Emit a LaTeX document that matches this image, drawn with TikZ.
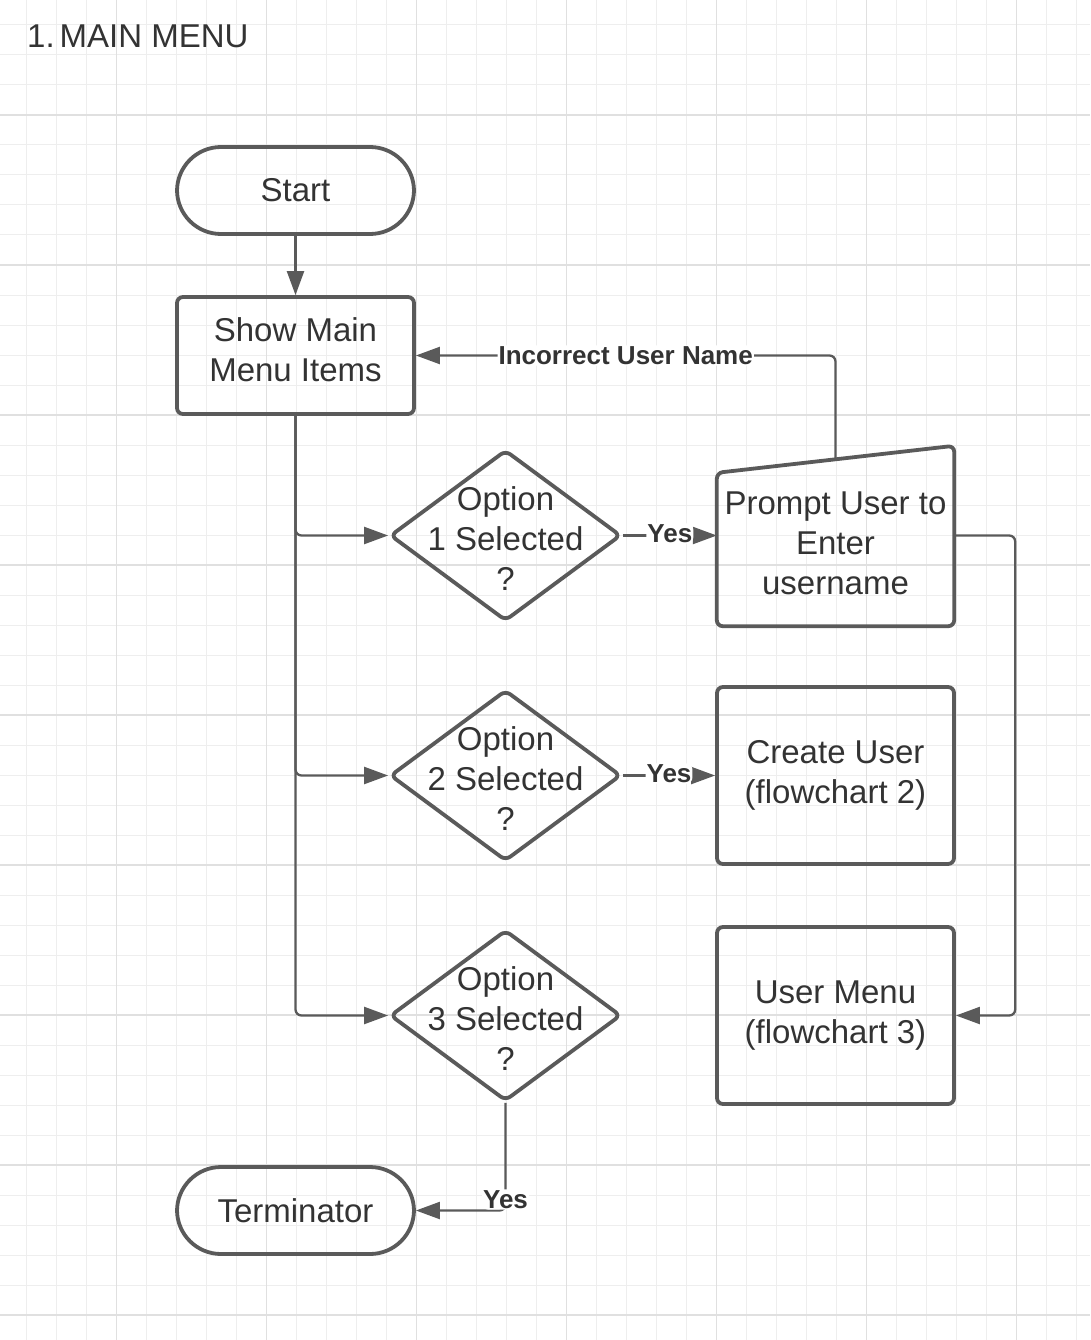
\documentclass[tikz,border=0pt]{standalone}
\usepackage{fontspec}
\setmainfont{Liberation Sans}
\usepackage{tikz}
\usetikzlibrary{shapes.geometric, arrows.meta}
\definecolor{linegray}{HTML}{5A5A5A}
\definecolor{textgray}{HTML}{333333}
\definecolor{gridminor}{HTML}{EEEEEE}
\definecolor{gridmajor}{HTML}{E0E0E0}
\tikzset{txt/.style={align=center, text=textgray, font=\fontsize{33}{40}\selectfont},
  box/.style={txt, draw=linegray, line width=3.8pt, rounded corners=6pt, minimum width=237pt, minimum height=177pt},
  term/.style={box, rounded corners=44pt, minimum height=87pt},
  choice/.style={diamond, draw=linegray, line width=3.8pt, rounded corners=6pt, minimum width=231pt, minimum height=171pt, inner sep=0pt},
  flow/.style={draw=linegray, line width=2.3pt, rounded corners=6pt, -{Triangle[length=24pt, width=17pt]}},
  edgelabel/.style={fill=white, inner sep=1pt, text=textgray, font=\fontsize{26}{30}\selectfont\bfseries}}
\begin{document}
\begin{tikzpicture}[x=1pt, y=-1pt]
      \useasboundingbox (0,0) rectangle (1090,1340);
      % grid paper
      \foreach \x in {26.7,56.7,...,1090} \draw [gridminor, line width=1pt] (\x,0) -- (\x,1340);
      \foreach \y in {25,55,...,1340} \draw [gridminor, line width=1pt] (0,\y) -- (1090,\y);
      \foreach \x in {116.7,266.7,...,1090} \draw [gridmajor, line width=1.2pt] (\x,0) -- (\x,1340);
      \foreach \y in {115,265,...,1340} \draw [gridmajor, line width=1.2pt] (0,\y) -- (1090,\y);
      \node [txt, anchor=west, inner sep=0pt, font=\fontsize{33}{38}\selectfont] (heading) at (27,36) {1.\hspace{5pt}MAIN MENU};
      \node [term] (start) at (295.5,190.5) {Start};
      \node [box, minimum height=117pt] (menu) at (295.5,355.5) {Show Main\\Menu Items\\[-28pt]};
      \node [choice, label={[txt, yshift=-3pt]center:Option\\1 Selected\\?}] (d1) at (505.5,535.5) {};
      \node [choice, label={[txt, yshift=-3pt]center:Option\\2 Selected\\?}] (d2) at (505.5,775.5) {};
      \node [choice, label={[txt, yshift=-3pt]center:Option\\3 Selected\\?}] (d3) at (505.5,1015.5) {};
      \node [txt, minimum width=237pt, minimum height=166pt] (prompt) at (835.5,543) {Prompt User to\\Enter\\username};
      \draw [draw=linegray, line width=3.8pt, rounded corners=6pt] (prompt.south west) -- ([yshift=-13pt]prompt.north west) -- ([yshift=14pt]prompt.north east) -- (prompt.south east) -- cycle;
      \node [box] (create) at (835.5,775.5) {Create User\\(flowchart 2)};
      \node [box] (usermenu) at (835.5,1015.5) {User Menu\\(flowchart 3)};
      \node [term] (stop) at (295.5,1210.5) {Terminator};
      \draw [flow] (start) -- (menu);
      \draw [flow] (menu.south) |- (d1.west);
      \draw [flow] (menu.south) |- (d2.west);
      \draw [flow] (menu.south) |- (d3.west);
      \draw [flow] (d1.east) -- (d1 -| prompt.west) node [edgelabel, midway, yshift=2pt] {Yes};
      \draw [flow] (d2.east) -- (d2 -| create.west) node [edgelabel, midway, yshift=2pt] {Yes};
      \draw [flow] (d3.south) |- (stop.east) node [edgelabel, pos=0.5, yshift=11pt] {Yes};
      \draw [flow] (prompt.north) |- (menu.east) node [edgelabel, pos=0.75] {Incorrect User Name};
      \draw [flow] (d1 -| prompt.east) -- ++(61,0) |- (usermenu.east);
    \end{tikzpicture}
\end{document}
